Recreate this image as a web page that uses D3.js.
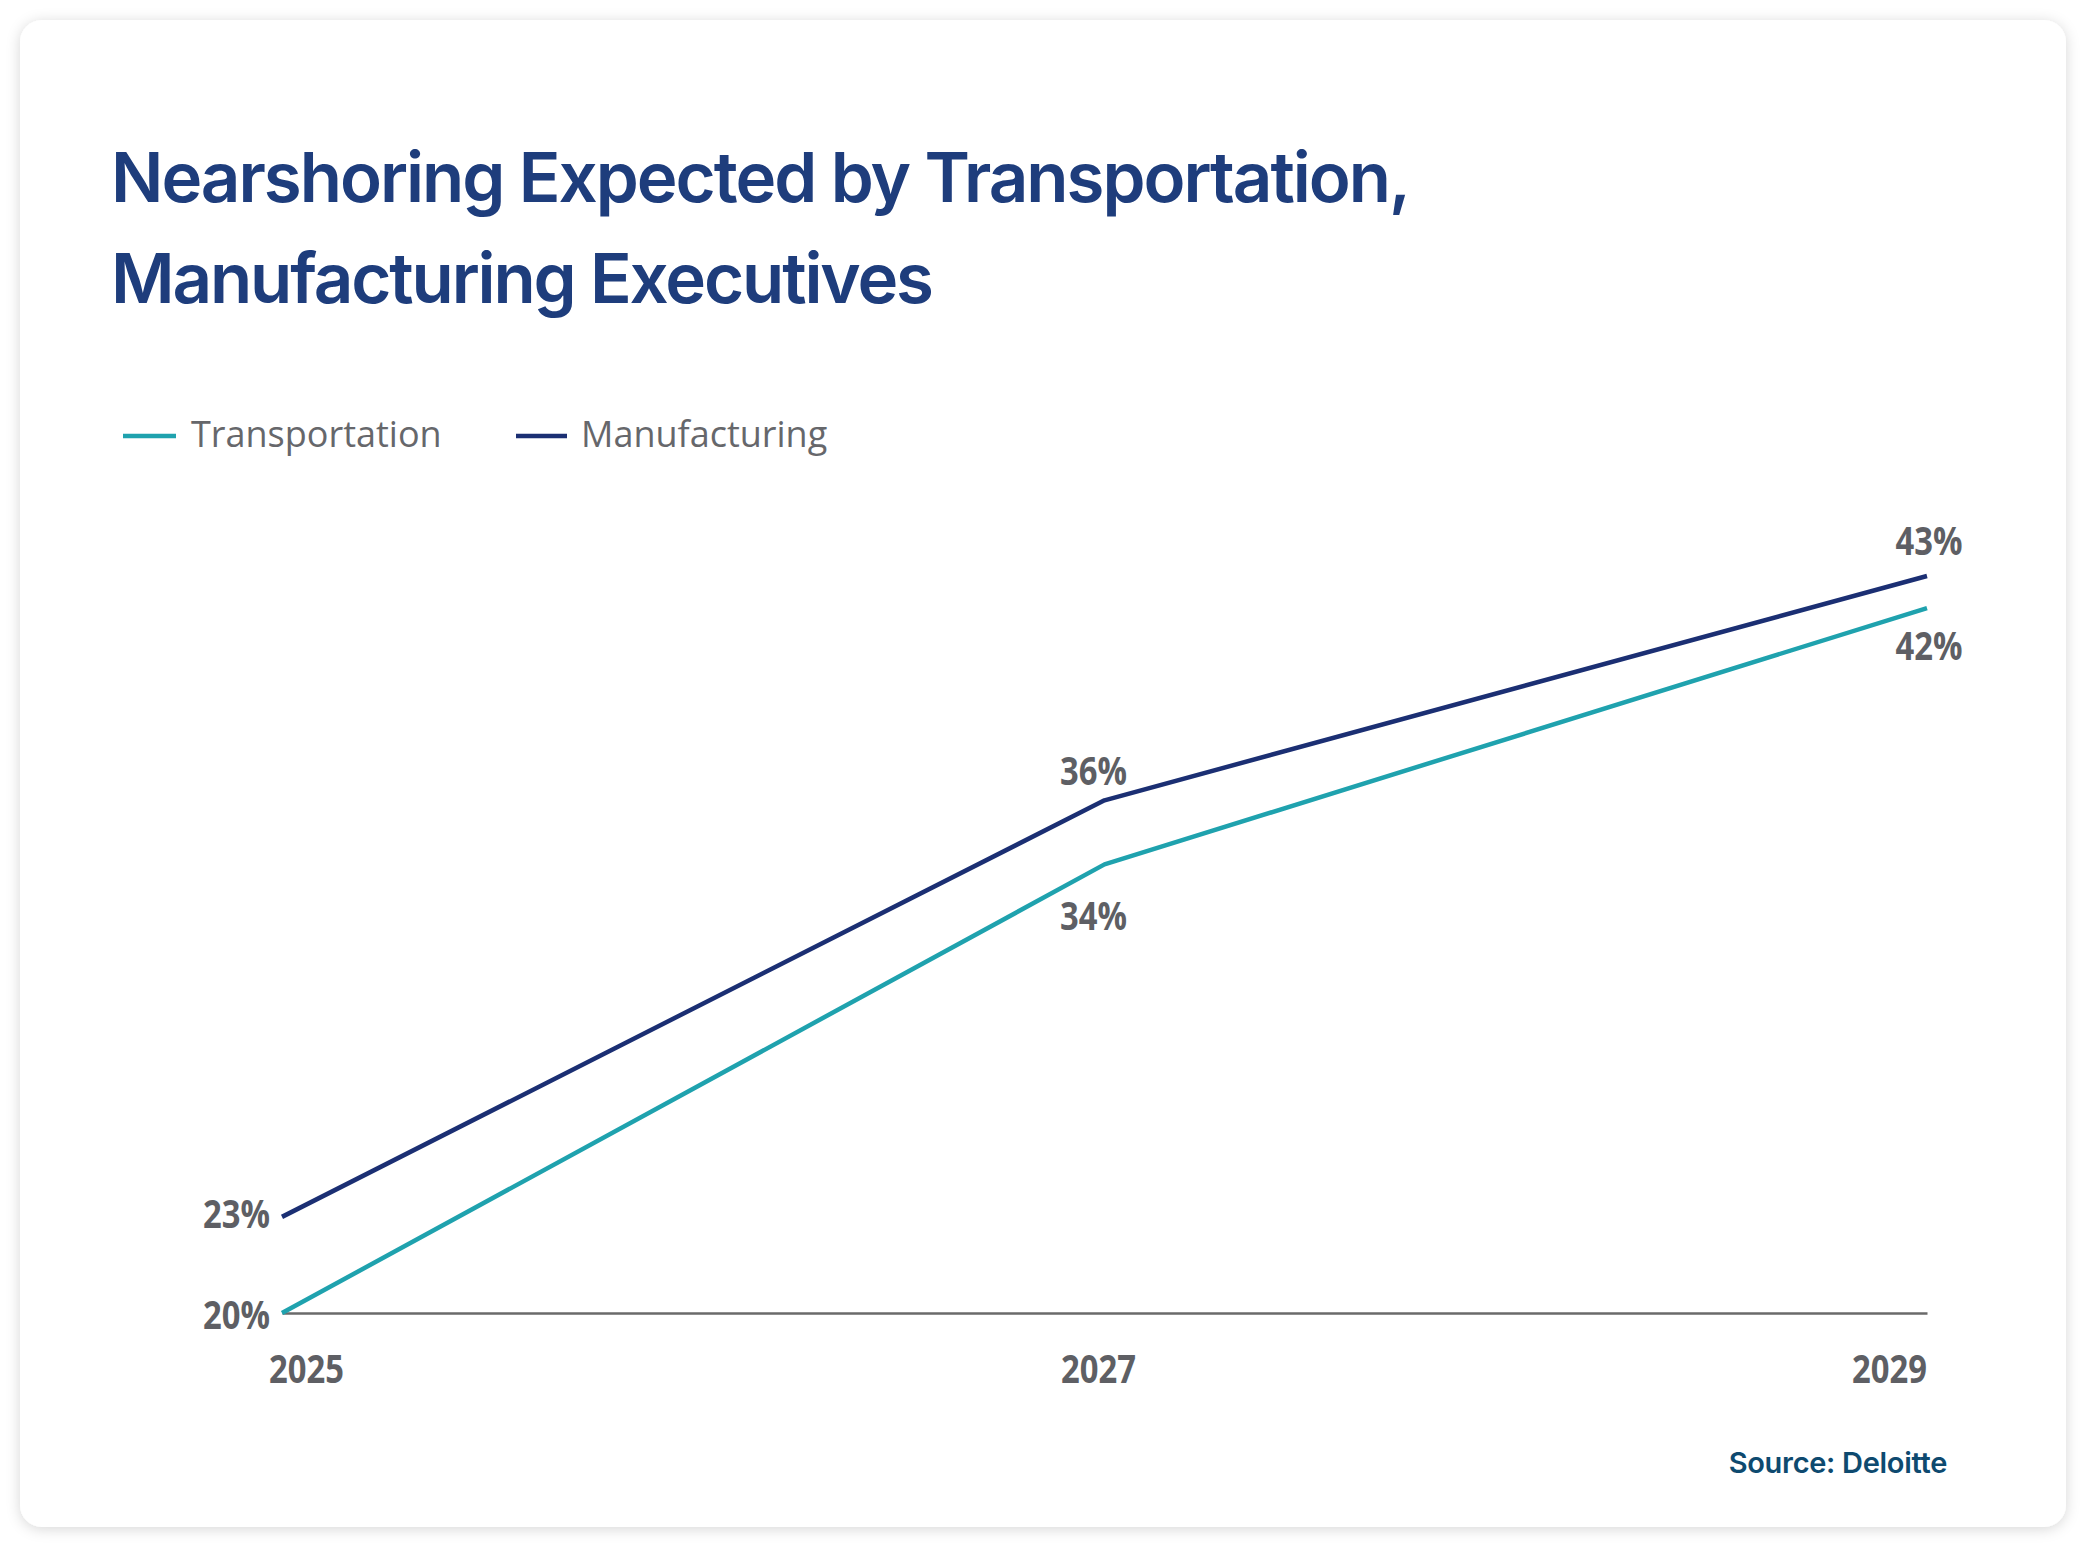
<!DOCTYPE html>
<html>
<head>
<meta charset="utf-8">
<script src="https://cdn.jsdelivr.net/npm/d3@7"></script>
<style>
  html, body { margin: 0; padding: 0; background: #ffffff; }
  svg { display: block; }
</style>
</head>
<body>
<svg id="chart" width="2086" height="1547"></svg>
<script>
// ---- data ----
const years = [2025, 2027, 2029];
const yearLabels = ["2025", "2027", "2029"];
const seriesNames = ["Transportation", "Manufacturing"];
const transportation = [20, 34, 42];
const manufacturing = [23, 36, 43];
const titleLines = ["Nearshoring Expected by Transportation,", "Manufacturing Executives"];
const sourceText = "Source: Deloitte";

// ---- styles ----
const colors = { Transportation: "#1fa2ae", Manufacturing: "#1b2f73" };
const labelColor = "#5e5f64";

const svg = d3.select("#chart");
const defs = svg.append("defs");
const f = defs.append("filter").attr("id", "shadow").attr("x", "-5%").attr("y", "-5%").attr("width", "110%").attr("height", "110%");
f.append("feDropShadow").attr("dx", 0).attr("dy", 2).attr("stdDeviation", 7).attr("flood-color", "#000").attr("flood-opacity", 0.16);

// card
svg.append("rect").attr("x", 20).attr("y", 20).attr("width", 2046).attr("height", 1507)
  .attr("rx", 22).attr("fill", "#fff").attr("filter", "url(#shadow)");

// title
const titleTargets = [1300, 823];
titleLines.forEach((t, i) => {
  const el = svg.append("text").attr("x", 111).attr("y", 202 + i * 101)
    .attr("font-family", "Inter, 'Noto Sans', sans-serif").attr("font-weight", 600)
    .attr("font-size", 69).attr("fill", "#1e3d7c").text(t);
  const w = el.node().getComputedTextLength();
  const ls = (titleTargets[i] - w) / (t.length - 1);
  el.attr("letter-spacing", ls);
});

// legend
const legendItems = [
  { name: "Transportation", x0: 123, x1: 176, tx: 191 },
  { name: "Manufacturing", x0: 516, x1: 567, tx: 581 }
];
legendItems.forEach(d => {
  svg.append("line").attr("x1", d.x0).attr("x2", d.x1).attr("y1", 436).attr("y2", 436)
    .attr("stroke", colors[d.name]).attr("stroke-width", 4.5);
  svg.append("text").attr("x", d.tx).attr("y", 447)
    .attr("font-family", "'Open Sans', sans-serif").attr("font-size", 36)
    .attr("fill", "#66676b").text(d.name);
});

// scales
const x = d3.scaleLinear().domain([2025, 2029]).range([282, 1927]);
const y = d3.scaleLinear().domain([20, 43]).range([1313, 576]);

// baseline axis
const axis = d3.axisBottom(x).tickValues([]).tickSize(0).tickSizeOuter(0);
const axG = svg.append("g").attr("transform", `translate(0,${y(20)})`).call(axis);
axG.select(".domain").attr("stroke", "#6a6a6a").attr("stroke-width", 2.5);

function condensedText(sel, ratio) {
  sel.each(function () {
    const w = this.getComputedTextLength();
    d3.select(this).attr("textLength", w * ratio).attr("lengthAdjust", "spacingAndGlyphs");
  });
}

// x labels
const anchors = ["start", "middle", "end"];
const xdx = [-13, -6, 0];
svg.append("g").selectAll("text").data(years).join("text")
  .attr("x", (d, i) => x(d) + xdx[i]).attr("y", 1383)
  .attr("text-anchor", (d, i) => anchors[i])
  .attr("font-family", "'Open Sans', sans-serif").attr("font-weight", 700).attr("font-size", 39)
  .attr("fill", labelColor).text((d, i) => yearLabels[i])
  .call(condensedText, 0.84);

// lines
const line = d3.line().x(d => x(d[0])).y(d => y(d[1]));
const seriesData = [
  { name: "Transportation", values: transportation, place: [{ a: "end", dx: -12, dy: 16 }, { a: "middle", dx: -11, dy: 66 }, { a: "middle", dx: 2, dy: 52 }] },
  { name: "Manufacturing", values: manufacturing, place: [{ a: "end", dx: -12, dy: 11 }, { a: "middle", dx: -11, dy: -15 }, { a: "middle", dx: 2, dy: -21 }] }
];
seriesData.forEach(s => {
  const pts = years.map((yr, i) => [yr, s.values[i]]);
  svg.append("path").datum(pts).attr("d", line).attr("fill", "none")
    .attr("stroke", colors[s.name]).attr("stroke-width", 4.5).attr("stroke-linejoin", "round");
  svg.append("g").selectAll("text").data(pts).join("text")
    .attr("x", (d, i) => x(d[0]) + s.place[i].dx)
    .attr("y", (d, i) => y(d[1]) + s.place[i].dy)
    .attr("text-anchor", (d, i) => s.place[i].a)
    .attr("font-family", "'Open Sans', sans-serif").attr("font-weight", 700).attr("font-size", 39)
    .attr("fill", labelColor).text(d => d[1] + "%")
    .call(condensedText, 0.84);
});

// source
svg.append("text").attr("x", 1947).attr("y", 1473).attr("text-anchor", "end")
  .attr("font-family", "Inter, 'Noto Sans', sans-serif").attr("font-weight", 600).attr("font-size", 29)
  .attr("letter-spacing", -0.3)
  .attr("fill", "#0e4a6f").text(sourceText);
</script>
</body>
</html>
